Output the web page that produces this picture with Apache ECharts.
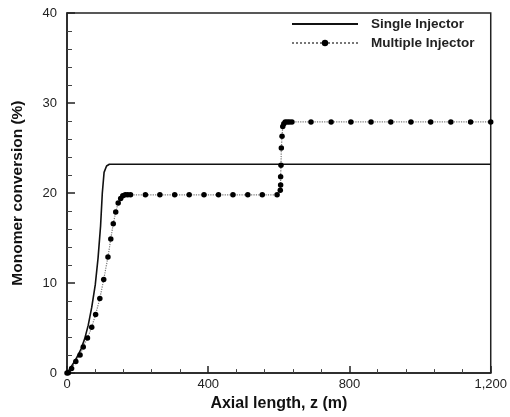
<!DOCTYPE html>
<html>
<head>
<meta charset="utf-8">
<script src="https://cdn.jsdelivr.net/npm/echarts@6/dist/echarts.min.js"></script>
<style>html,body{margin:0;padding:0;background:#fff}#c{width:510px;height:417px}</style>
</head>
<body>
<div id="c"></div>
<script>
var seriesNames = ['Single Injector', 'Multiple Injector'];
var singleX = [0, 10, 20, 30, 40, 50, 60, 70, 80, 88, 95, 100, 105, 112, 120, 1200];
var singleY = [0, 0.6, 1.2, 1.9, 2.7, 3.8, 5.3, 7.3, 9.8, 12.8, 16.3, 20.0, 22.3, 23.0, 23.2, 23.2];
var multiX = [0, 4, 13, 25, 37, 46, 58, 70, 81, 93, 104, 116, 124, 131, 138, 145, 152, 158, 165, 172, 180,
  222, 263, 305, 346, 388, 429, 470, 512, 553, 595, 604, 605, 605, 606, 607, 609, 611, 614, 618, 624, 630, 637,
  691, 748, 804, 861, 917, 974, 1030, 1087, 1143, 1200];
var multiY = [0, 0.05, 0.5, 1.3, 2.0, 2.9, 3.9, 5.1, 6.5, 8.3, 10.4, 12.9, 14.9, 16.6, 17.9, 18.9, 19.4, 19.7, 19.8, 19.8, 19.8,
  19.8, 19.8, 19.8, 19.8, 19.8, 19.8, 19.8, 19.8, 19.8, 19.8, 20.3, 20.9, 21.8, 23.1, 25.0, 26.3, 27.4, 27.7, 27.9, 27.9, 27.9, 27.9,
  27.9, 27.9, 27.9, 27.9, 27.9, 27.9, 27.9, 27.9, 27.9, 27.9];
var xTicks = [0, 400, 800, 1200];
var xLabels = ['0', '400', '800', '1,200'];

function pairs(xs, ys) { return xs.map(function (x, i) { return [x, ys[i]]; }); }

var font = 'Liberation Sans, Arial, sans-serif';
var chart = echarts.init(document.getElementById('c'), null, { renderer: 'canvas' });
chart.setOption({
  animation: false,
  backgroundColor: '#fff',
  grid: { left: 67, right: 17, top: 13, bottom: 43, show: true, borderColor: '#222', borderWidth: 1.5, containLabel: false },
  legend: {
    orient: 'vertical', left: 286, top: 12, itemWidth: 66, itemHeight: 8, itemGap: 5,
    textStyle: { fontFamily: font, fontWeight: 'bold', fontSize: 13.5, color: '#222', padding: [0, 0, 0, 8] },
    data: [
      { name: seriesNames[0], itemStyle: { color: 'rgba(0,0,0,0)', borderWidth: 0 } },
      { name: seriesNames[1] }
    ]
  },
  xAxis: {
    type: 'value', min: 0, max: 1200, interval: 400,
    name: 'Axial length, z (m)', nameLocation: 'middle', nameGap: 22,
    nameTextStyle: { fontFamily: font, fontWeight: 'bold', fontSize: 16, color: '#111' },
    axisLine: { show: true, onZero: false, lineStyle: { color: '#222', width: 1.5 } },
    axisTick: { show: true, inside: true, length: 7, lineStyle: { color: '#222', width: 1.5 } },
    minorTick: { show: true, splitNumber: 5, length: 4, lineStyle: { color: '#444' } },
    axisLabel: { fontFamily: font, fontSize: 13, color: '#222', margin: 5,
      formatter: function (v) { var i = xTicks.indexOf(v); return i >= 0 ? xLabels[i] : ''; } },
    splitLine: { show: false }
  },
  yAxis: {
    type: 'value', min: 0, max: 40, interval: 10,
    name: 'Monomer conversion (%)', nameLocation: 'middle', nameGap: 41,
    nameTextStyle: { fontFamily: font, fontWeight: 'bold', fontSize: 15.5, color: '#111' },
    axisLine: { show: true, onZero: false, lineStyle: { color: '#222', width: 1.5 } },
    axisTick: { show: true, inside: true, length: 8, lineStyle: { color: '#222', width: 1.5 } },
    minorTick: { show: true, splitNumber: 5, length: 5, lineStyle: { color: '#444' } },
    axisLabel: { fontFamily: font, fontSize: 13, color: '#222', margin: 10 },
    splitLine: { show: false }
  },
  series: [
    {
      name: seriesNames[0], type: 'line', data: pairs(singleX, singleY),
      symbol: 'none', smooth: false,
      lineStyle: { color: '#111', width: 1.6 }, itemStyle: { color: '#111' }
    },
    {
      name: seriesNames[1], type: 'line', data: pairs(multiX, multiY),
      symbol: 'circle', symbolSize: 5.5, showAllSymbol: true,
      lineStyle: { color: '#777', width: 1.2, type: 'dotted' },
      itemStyle: { color: '#000', borderWidth: 0 }
    }
  ]
});
</script>
</body>
</html>
